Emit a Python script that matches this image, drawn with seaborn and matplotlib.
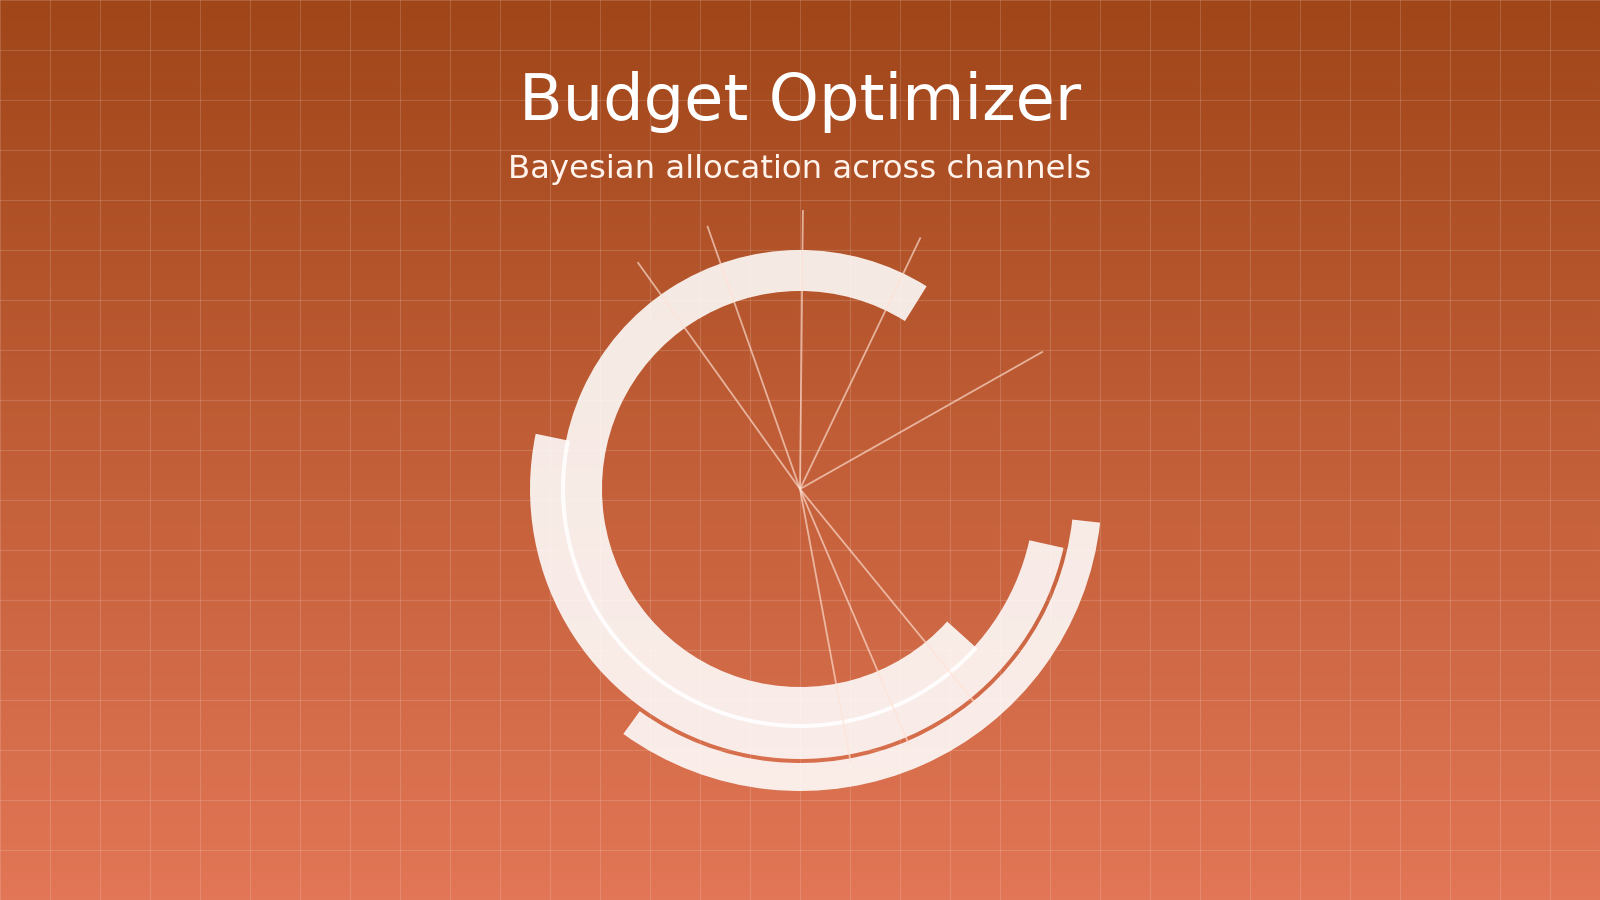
import numpy as np
import matplotlib
matplotlib.use("Agg")
import matplotlib.pyplot as plt
from matplotlib.colors import LinearSegmentedColormap
import seaborn as sns

# channels drawn as rings, inner to outer
channels = ["Channel A", "Channel B", "Channel C"]
start_deg = [132.0, 102.6, 96.4]      # clockwise from north
sweep_deg = [260.0, 179.2, 119.4]     # allocated arc

# posterior draws shown as spokes
draw_deg = [324.4, 340.6, 0.6, 25.6, 60.5, 140.7, 156.9, 169.5]

# ring geometry (pixels, 1 data unit = 1 px)
ring_inner = [198, 235, 274]
ring_outer = [239, 270, 302]
spoke_len = 279

W, H = 1600, 900
cx, cy = 800, 489
R = 320

sns.set_theme(style="whitegrid")

fig = plt.figure(figsize=(16, 9), dpi=100)

# background gradient + 50px grid
bg = fig.add_axes([0, 0, 1, 1])
cmap = LinearSegmentedColormap.from_list("bg", ["#A04619", "#E27656"])
grad = np.linspace(0, 1, 256).reshape(-1, 1)
bg.imshow(grad, cmap=cmap, aspect="auto", extent=[0, W, H, 0], zorder=0)
bg.set_xlim(0, W)
bg.set_ylim(H, 0)
bg.set_xticks(np.arange(0, W + 1, 50))
bg.set_yticks(np.arange(0, H + 1, 50))
bg.tick_params(labelbottom=False, labelleft=False, length=0)
bg.grid(True, color="white", alpha=0.15, linewidth=0.8)
bg.set_axisbelow(False)
for s in bg.spines.values():
    s.set_visible(False)

# polar chart
ax = fig.add_axes([(cx - R) / W, (H - cy - R) / H, 2 * R / W, 2 * R / H],
                  projection="polar")
ax.set_theta_zero_location("N")
ax.set_theta_direction(-1)
ax.set_ylim(0, R)
ax.patch.set_alpha(0)
ax.set_axis_off()

for i, name in enumerate(channels):
    mid = np.deg2rad(start_deg[i] + sweep_deg[i] / 2)
    ax.bar(mid, ring_outer[i] - ring_inner[i], width=np.deg2rad(sweep_deg[i]),
           bottom=ring_inner[i], color="white", alpha=0.88, linewidth=0,
           label=name, zorder=2)

ax.vlines(np.deg2rad(draw_deg), 0, spoke_len, color="#FFE2D4", alpha=0.65,
          linewidth=1.3, zorder=3)

fig.text(0.5, 1 - 120 / H, "Budget Optimizer", ha="center", va="baseline",
         fontsize=46, color="white", family="DejaVu Sans")
fig.text(0.5, 1 - 178 / H, "Bayesian allocation across channels", ha="center",
         va="baseline", fontsize=23.3, color="#FFF3EC", family="DejaVu Sans")

fig.savefig("out.png", dpi=100)
